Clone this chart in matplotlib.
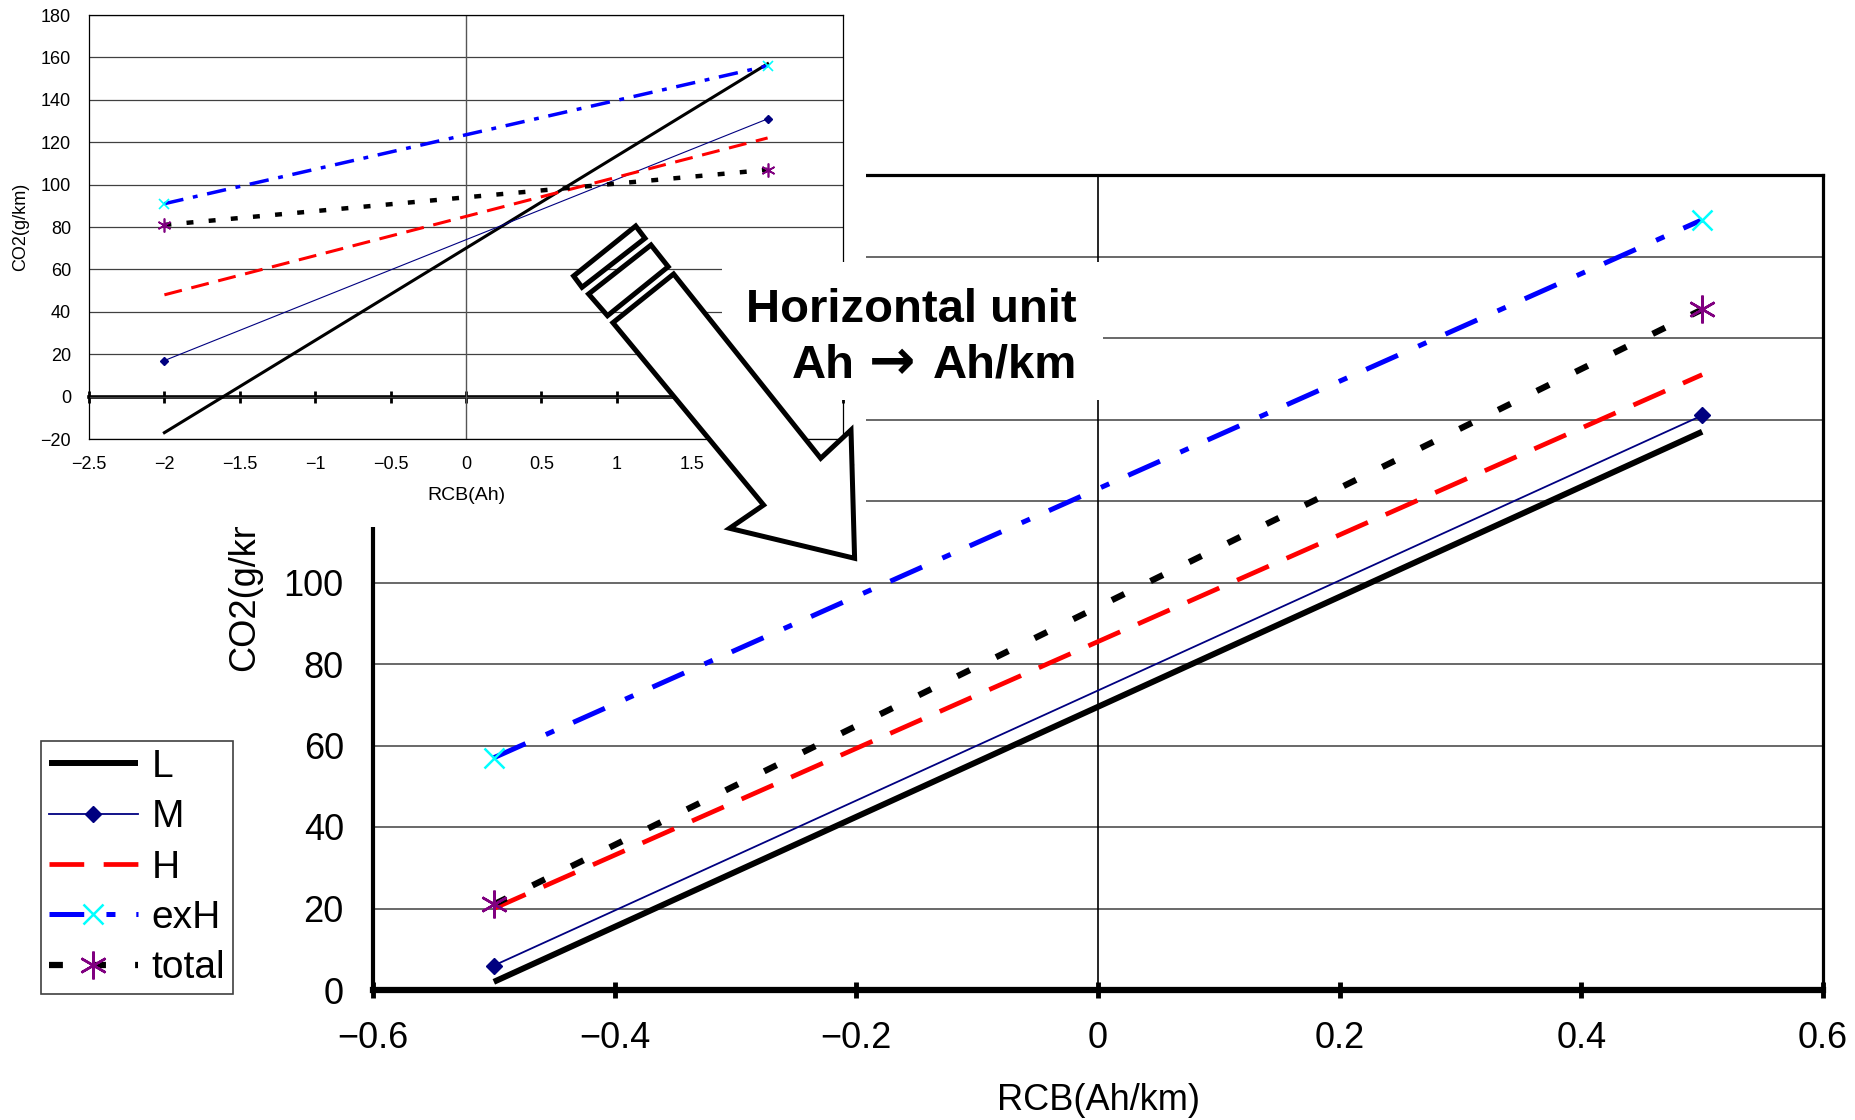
import matplotlib
matplotlib.use('Agg')
import matplotlib.pyplot as plt
from matplotlib.patches import Rectangle, Polygon
import matplotlib.transforms as mtransforms

plt.rcParams['font.family'] = ['Liberation Sans', 'DejaVu Sans']
plt.rcParams['lines.scale_dashes'] = False

# ---------------- data ----------------
series_names = ['L', 'M', 'H', 'exH', 'total']

# main chart: RCB (Ah/km)
x_main = [-0.5, 0.5]
main_L = [2, 137]
main_M = [6, 141]
main_H = [20, 151]
main_exH = [57, 189]
main_total = [21, 167]

# inset chart: RCB (Ah)
x_inset = [-2, 2]
inset_L = [-17, 157]
inset_M = [17, 131]
inset_H = [48, 122]
inset_exH = [91, 156]
inset_total = [81, 107]

main_xticks = [-0.6, -0.4, -0.2, 0, 0.2, 0.4, 0.6]
main_xticklabels = ['\u22120.6', '\u22120.4', '\u22120.2', '0', '0.2', '0.4', '0.6']
main_yticks = [0, 20, 40, 60, 80, 100, 120, 140, 160, 180, 200]

inset_xticks = [-2.5, -2, -1.5, -1, -0.5, 0, 0.5, 1, 1.5, 2, 2.5]
inset_xticklabels = ['\u22122.5', '\u22122', '\u22121.5', '\u22121', '\u22120.5', '0',
                     '0.5', '1', '1.5', '2', '2.5']
inset_yticks = [-20, 0, 20, 40, 60, 80, 100, 120, 140, 160, 180]

main_values = [main_L, main_M, main_H, main_exH, main_total]
inset_values = [inset_L, inset_M, inset_H, inset_exH, inset_total]

# ---------------- styles ----------------
main_styles = [
    dict(color='black', lw=4.3, solid_capstyle='butt'),
    dict(color='#000080', lw=1.3, marker='D', ms=8, mfc='#000080', mec='#000080'),
    dict(color='red', lw=3.4, dashes=(25, 14), dash_capstyle='butt'),
    dict(color='#0000FF', lw=3.6, dashes=(25, 16, 6.5, 15), dash_capstyle='butt',
         marker='x', ms=14, mec='#00FFFF', mew=1.8),
    dict(color='black', lw=4.5, dashes=(10, 21), dash_capstyle='butt',
         marker=(6, 2, 0), ms=20, mec='#800080', mew=1.8),
]
inset_styles = [
    dict(color='black', lw=2.2),
    dict(color='#000080', lw=0.8, marker='D', ms=4, mfc='#000080', mec='#000080'),
    dict(color='red', lw=2.2, dashes=(13, 7), dash_capstyle='butt'),
    dict(color='#0000FF', lw=2.5, dashes=(14, 7, 3.5, 7), dash_capstyle='butt',
         marker='x', ms=7, mec='#00FFFF', mew=1.2),
    dict(color='black', lw=3.2, dashes=(5, 11), dash_capstyle='butt',
         marker=(6, 2, 0), ms=10, mec='#800080', mew=1.2),
]

W, H = 1856, 1120
fig = plt.figure(figsize=(W / 100, H / 100), dpi=100)
px = mtransforms.Affine2D().scale(1 / W, -1 / H).translate(0, 1) + fig.transFigure


def frac(x0, y0, x1, y1):
    return [x0 / W, 1 - y1 / H, (x1 - x0) / W, (y1 - y0) / H]


# ---------------- main axes ----------------
ax = fig.add_axes(frac(373, 175, 1823, 990))
handles = []
for name, vals, st in zip(series_names, main_values, main_styles):
    ln, = ax.plot(x_main, vals, label=name, zorder=3, **st)
    handles.append(ln)

ax.set_xlim(-0.6, 0.6)
ax.set_ylim(0, 200)
ax.set_xticks(main_xticks, main_xticklabels)
ax.set_yticks(main_yticks)
ax.tick_params(axis='x', direction='inout', length=12, width=3.5, pad=16, labelsize=26)
ax.tick_params(axis='y', length=0, pad=21, labelsize=26)
ax.grid(axis='y', color='#404040', lw=1.1)
ax.set_axisbelow(True)
ax.axvline(0, color='black', lw=1.2, zorder=1)
ax.spines['bottom'].set_linewidth(4.5)
ax.spines['left'].set_linewidth(3)
ax.spines['top'].set_linewidth(2.3)
ax.spines['right'].set_linewidth(2.3)
ax.set_xlabel('RCB(Ah/km)', fontsize=26)
ax.xaxis.set_label_coords(0.5, (990 - 1101) / 815)
ax.xaxis.label.set_va('center')
ax.set_ylabel('CO2(g/km)', fontsize=26)
ax.yaxis.set_label_coords((245 - 373) / 1450, 0.5)
ax.yaxis.label.set_va('center')

# white background of the pasted inset chart
fig.add_artist(Rectangle((0, 0), 866, 527, transform=px, fc='white', ec='none', zorder=1))

# ---------------- inset axes ----------------
ax_in = fig.add_axes(frac(89, 15, 843, 439))
ax_in.set_zorder(2)
for name, vals, st in zip(series_names, inset_values, inset_styles):
    ax_in.plot(x_inset, vals, zorder=3, **st)
ax_in.set_xlim(-2.5, 2.5)
ax_in.set_ylim(-20, 180)
ax_in.set_xticks(inset_xticks, inset_xticklabels)
ax_in.set_yticks(inset_yticks)
ax_in.tick_params(axis='x', length=0, pad=12, labelsize=13)
ax_in.tick_params(axis='y', length=0, pad=13, labelsize=13)
ax_in.grid(axis='y', color='#404040', lw=0.9)
ax_in.set_axisbelow(True)
ax_in.axvline(0, color='#555555', lw=1.0, zorder=1)
for s in ax_in.spines.values():
    s.set_linewidth(0.9)
sec = ax_in.secondary_xaxis((0 - (-20)) / 200)
sec.set_xticks(inset_xticks)
sec.tick_params(direction='inout', length=9, width=2, labelbottom=False, labeltop=False)
sec.spines['bottom'].set_linewidth(2.6)
sec.spines['top'].set_visible(False)
ax_in.set_xlabel('RCB(Ah)', fontsize=14)
ax_in.xaxis.set_label_coords(0.5, (439 - 496) / 424)
ax_in.xaxis.label.set_va('center')
ax_in.set_ylabel('CO2(g/km)', fontsize=13)
ax_in.yaxis.set_label_coords((21 - 89) / 754, 0.5)
ax_in.yaxis.label.set_va('center')

# ---------------- text box & block arrow ----------------
fig.add_artist(Rectangle((722, 262), 381, 138, transform=px, fc='white', ec='none', zorder=3))

stripe_outer = [(573.6, 276), (635.7, 226), (645, 238.3), (582, 287.3)]
stripe_inner = [(588.6, 294), (651, 245), (668.2, 266.7), (607.5, 315.7)]
arrow_body = [(612.9, 322.7), (673.6, 274), (820.7, 458.3), (851, 430),
              (854.6, 558.3), (729.6, 528.3), (763.6, 505)]
for poly in (stripe_outer, stripe_inner, arrow_body):
    fig.add_artist(Polygon(poly, closed=True, transform=px, fc='white', ec='black',
                           lw=3.6, joinstyle='miter', zorder=4))

fig.text(1077 / W, 1 - 322 / H, 'Horizontal unit', ha='right', va='baseline',
         fontsize=34, fontweight='bold', zorder=5)
fig.text(855 / W, 1 - 378 / H, 'Ah', ha='right', va='baseline',
         fontsize=34, fontweight='bold', zorder=5)
fig.text(892 / W, 1 - 379 / H, '\u2192', ha='center', va='baseline',
         fontsize=40, fontweight='bold', family='DejaVu Sans', zorder=5)
fig.text(1077 / W, 1 - 378 / H, 'Ah/km', ha='right', va='baseline',
         fontsize=34, fontweight='bold', zorder=5)

# ---------------- legend ----------------
leg = fig.legend(handles, series_names, loc='upper left',
                 bbox_to_anchor=(41 / W, 1 - 741 / H), bbox_transform=fig.transFigure,
                 borderaxespad=0, frameon=True, fancybox=False, edgecolor='#404040',
                 framealpha=1, fontsize=28, handlelength=2.3, handletextpad=0.35,
                 labelspacing=0.37, borderpad=0.2)
leg.get_frame().set_linewidth(1.2)

fig.savefig('out.png', dpi=100)
